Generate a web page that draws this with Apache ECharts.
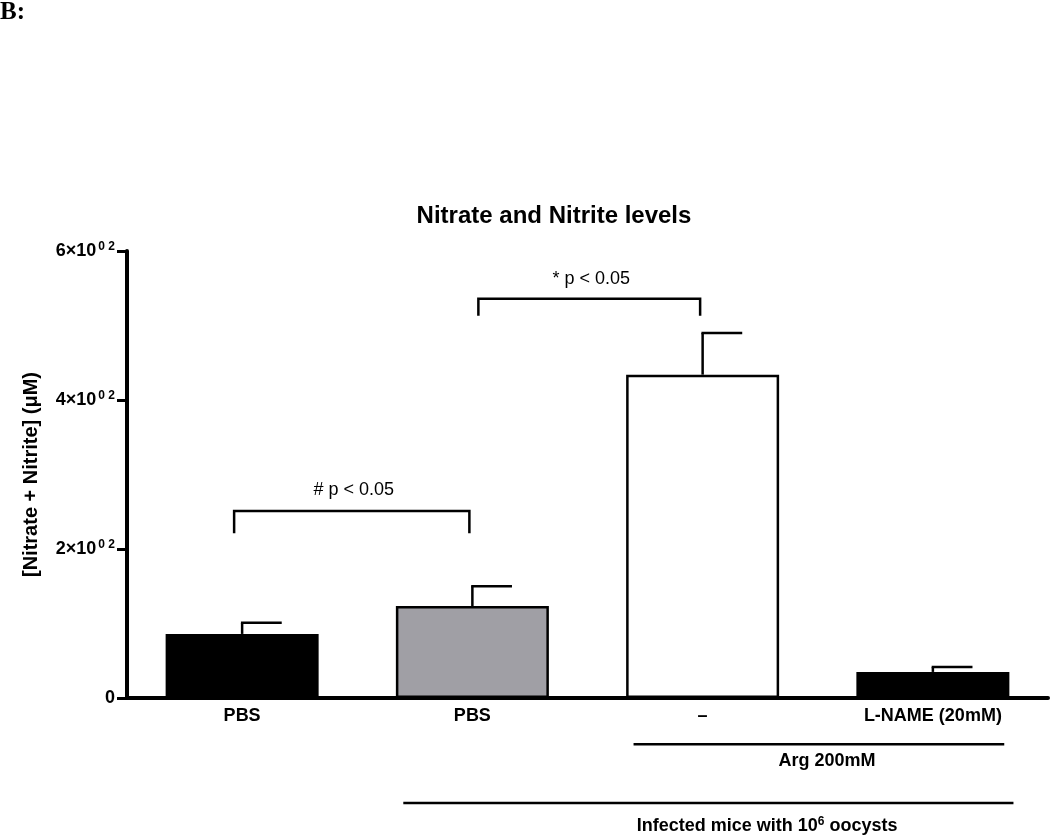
<!DOCTYPE html>
<html><head><meta charset="utf-8">
<script src="https://cdn.jsdelivr.net/npm/echarts@6/dist/echarts.min.js"></script>
<style>html,body{margin:0;padding:0;background:#fff}#c{width:1050px;height:836px}</style>
</head><body><div id="c"></div>
<script>
// ---- data ----
const categories = ['PBS', 'PBS', '–', 'L-NAME (20mM)'];
const means = [86, 123.5, 434, 35];
const errors = [15, 26.5, 56, 6.5];
const barColors = ['#000000', '#a09fa5', '#ffffff', '#000000'];
const yTickValues = [0, 200, 400, 600];
const comparisonLabels = ['# p < 0.05', '* p < 0.05'];
const comparisonPairs = [[0, 1], [1, 2]];
const groupLabels = ['Arg 200mM', 'Infected mice with 10^6 oocysts'];

// ---- layout (positions in axis units, not data) ----
const FONT = 'Liberation Sans, Arial, Helvetica, sans-serif';
const bracketLayout = [
  {dxFrom: -8, dxTo: -3, top: 251, leg: 221, textDy: -21},
  {dxFrom: 6, dxTo: -2.5, top: 536, leg: 513, textDy: -20}
];
const groupLayout = [
  {from: 1.70, to: 3.31, lineY: -62, textX: 2.54, textY: -85},
  {from: 0.70, to: 3.35, lineY: -141, textX: 2.28, textY: -172}
];

function catPx(api, x) {
  const band = api.size([1, 0])[0];
  const i = Math.floor(x);
  return api.coord([i, 0])[0] + (x - i) * band;
}

const chart = echarts.init(document.getElementById('c'), null, {renderer: 'canvas'});
chart.setOption({
  animation: false,
  backgroundColor: '#fff',
  title: {
    text: 'Nitrate and Nitrite levels',
    left: 549, top: 199, textAlign: 'center',
    textStyle: {fontFamily: FONT, fontWeight: 'bold', fontSize: 24, color: '#000'}
  },
  graphic: [{
    type: 'text', left: 0, top: 0,
    style: {text: 'B:', font: 'bold 25px "Liberation Serif", "Times New Roman", serif', fill: '#000'}
  }],
  grid: {left: 127, right: 2, top: 251, bottom: 138, containLabel: false},
  xAxis: {
    type: 'category', data: categories,
    axisLine: {lineStyle: {color: '#000', width: 4}},
    axisTick: {show: false},
    axisLabel: {color: '#000', fontFamily: FONT, fontWeight: 'bold', fontSize: 18, margin: 9, interval: 0}
  },
  yAxis: {
    type: 'value', min: 0, max: 600, interval: 200,
    name: '[Nitrate + Nitrite] (μM)', nameLocation: 'middle', nameGap: 86, nameRotate: 90,
    nameTextStyle: {color: '#000', fontFamily: FONT, fontWeight: 'bold', fontSize: 20},
    axisLine: {show: true, lineStyle: {color: '#000', width: 4}},
    axisTick: {show: true, length: 10, lineStyle: {color: '#000', width: 3}},
    splitLine: {show: false},
    axisLabel: {
      margin: 12,
      formatter: v => yTickValues.indexOf(v) < 0 ? '' : (v === 0 ? '{m|0}' : '{m|' + (v / 100) + '×10}{s|0 2}'),
      rich: {
        m: {color: '#000', fontFamily: FONT, fontWeight: 'bold', fontSize: 18, lineHeight: 20},
        s: {color: '#000', fontFamily: FONT, fontWeight: 'bold', fontSize: 12, lineHeight: 20, verticalAlign: 'top', padding: [0, 0, 8, 2]}
      }
    }
  },
  series: [
    {
      type: 'bar', barWidth: 153,
      data: means.map((v, i) => ({value: v, itemStyle: {color: barColors[i]}})),
      itemStyle: {borderColor: '#000', borderWidth: 2.5},
      z: 2
    },
    {
      type: 'custom', z: 3,
      data: means.map((v, i) => [i, v, v + errors[i]]),
      renderItem(params, api) {
        const i = api.value(0);
        const base = api.coord([i, api.value(1)]);
        const top = api.coord([i, api.value(2)]);
        const cap = api.size([1, 0])[0] * 0.172;
        const st = {stroke: '#000', lineWidth: 2.5};
        return {type: 'group', children: [
          {type: 'line', shape: {x1: top[0], y1: base[1], x2: top[0], y2: top[1]}, style: st},
          {type: 'line', shape: {x1: top[0] - 1.2, y1: top[1], x2: top[0] + cap, y2: top[1]}, style: st}
        ]};
      }
    },
    {
      type: 'custom', z: 3,
      data: comparisonPairs.map(p => [p[0], p[1]]),
      renderItem(params, api) {
        const L = bracketLayout[params.dataIndex];
        const x1 = api.coord([api.value(0), 0])[0] + L.dxFrom;
        const x2 = api.coord([api.value(1), 0])[0] + L.dxTo;
        const yT = api.coord([0, L.top])[1];
        const yL = api.coord([0, L.leg])[1];
        return {type: 'group', children: [
          {type: 'polyline', shape: {points: [[x1, yL], [x1, yT], [x2, yT], [x2, yL]]},
           style: {stroke: '#000', lineWidth: 2.5, fill: null}},
          {type: 'text', style: {text: comparisonLabels[params.dataIndex], x: (x1 + x2) / 2 + 2, y: yT + L.textDy,
            align: 'center', verticalAlign: 'middle', fill: '#000', font: '18px ' + FONT}}
        ]};
      }
    },
    {
      type: 'custom', z: 3, clip: false,
      data: groupLabels.map((g, i) => [i]),
      renderItem(params, api) {
        const L = groupLayout[params.dataIndex];
        const x1 = catPx(api, L.from), x2 = catPx(api, L.to);
        const y = api.coord([0, L.lineY])[1];
        const tx = catPx(api, L.textX), ty = api.coord([0, L.textY])[1];
        const label = groupLabels[params.dataIndex];
        const parts = label.split('^');
        let txt;
        if (parts.length > 1) {
          const m = parts[1].match(/^(\S+)(.*)$/);
          txt = '{b|' + parts[0] + '}{s|' + m[1] + '}{b|' + m[2] + '}';
        } else {
          txt = '{b|' + label + '}';
        }
        const rich = {
          b: {fontFamily: FONT, fontWeight: 'bold', fontSize: 18, fill: '#000', lineHeight: 20},
          s: {fontFamily: FONT, fontWeight: 'bold', fontSize: 12, fill: '#000', lineHeight: 20, verticalAlign: 'top'}
        };
        return {type: 'group', children: [
          {type: 'line', shape: {x1: x1, y1: y, x2: x2, y2: y}, style: {stroke: '#000', lineWidth: 2.5}},
          {type: 'text', style: {text: txt, rich: rich, x: tx, y: ty, align: 'center', verticalAlign: 'middle', fill: '#000'}}
        ]};
      }
    }
  ]
});
</script>
</body></html>
